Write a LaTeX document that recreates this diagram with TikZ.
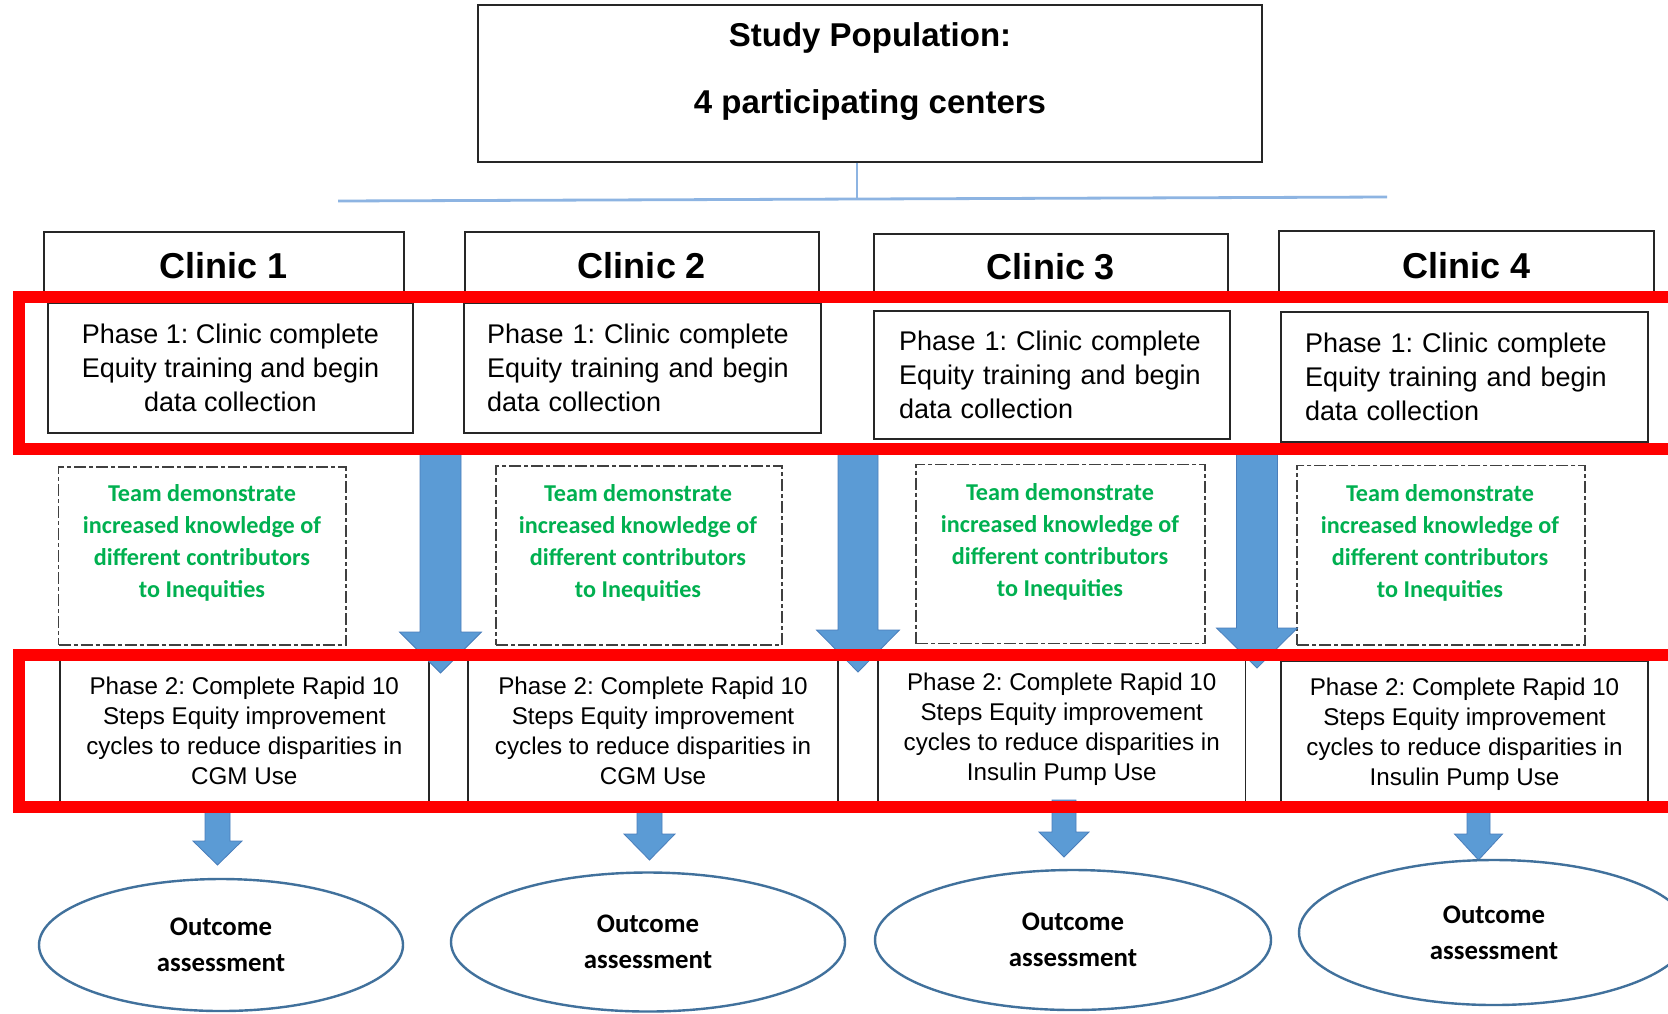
\documentclass[tikz,border=0pt]{standalone}
\usepackage{fontspec}
\setmainfont{Liberation Sans}
\newfontfamily\calib{Carlito}
\usetikzlibrary{shapes.geometric}
\frenchspacing
\hyphenpenalty=10000
\exhyphenpenalty=10000
\definecolor{arrowblue}{HTML}{5B9BD5}
\definecolor{arrowedge}{HTML}{4A7EBB}
\definecolor{ellblue}{HTML}{41719C}
\definecolor{linkblue}{HTML}{8DB4E2}
\definecolor{teamgreen}{HTML}{00B050}
\definecolor{boxgray}{HTML}{404040}
% x, top, shaft half width, head half width, head base y, tip y
\newcommand\blkarrow[6]{%
  \path[fill=arrowblue, draw=arrowedge, line width=0.4pt]
    (#1-#3,#2) -- (#1+#3,#2) -- (#1+#3,#5) -- (#1+#4,#5) -- (#1,#6)
    -- (#1-#4,#5) -- (#1-#3,#5) -- cycle;}
\begin{document}
\begin{tikzpicture}[x=0.5pt,y=-0.5pt,
  box/.style={draw=black!85, line width=0.9pt, inner sep=0pt},
  clinicbox/.style={box, font=\bfseries\fontsize{18}{22}\selectfont},
  phaseone/.style={box, font=\fontsize{13.5}{17}\selectfont},
  phasetwo/.style={box, align=center, font=\fontsize{12.1}{15}\selectfont},
  teambox/.style={draw=boxgray, line width=0.7pt, dash pattern=on 6pt off 1.5pt on 2pt off 1.5pt, inner sep=0pt},
  teamtext/.style={text=teamgreen, align=center, inner sep=0pt, font=\calib\bfseries\fontsize{12.1}{16}\selectfont},
  outcome/.style={ellipse, draw=ellblue, line width=1.2pt, inner sep=0pt, align=center, font=\calib\bfseries\fontsize{13.4}{18}\selectfont},
  redframe/.style={draw=red, line width=6pt},
  link/.style={draw=linkblue, line width=1.4pt}
]
\useasboundingbox (0,0) rectangle (1668,1013);
\fill[white] (0,0) rectangle (1668,1013);
\clip (0,0) rectangle (1668,1013);

% top box
\node[box, minimum width=392pt, minimum height=78.5pt] (top) at (870,83.5) {};
\node[align=center, inner sep=0pt, font=\bfseries\fontsize{16.5}{33.5}\selectfont] (toptxt) at (870,71.5) {Study Population:\\4 participating centers};

% connector lines
\coordinate (hl) at (338,201);
\coordinate (hr) at (1387,197);
\coordinate (hj) at (857,199);
\draw[link] (hl) -- (hr);
\draw[link] (top.south -| hj) -- (hj);

% clinic headers
\node[clinicbox, minimum width=180.2pt, minimum height=34pt] (c1) at (224,266) {Clinic 1};
\node[clinicbox, minimum width=177pt, minimum height=34pt] (c2) at (642,266) {Clinic 2};
\node[clinicbox, minimum width=177pt, minimum height=33pt] (c3) at (1051,267) {Clinic 3};
\node[clinicbox, minimum width=187.5pt, minimum height=34.5pt] (c4) at (1466.5,265.5) {Clinic 4};

% phase 1 boxes
\node[phaseone, minimum width=182.5pt, minimum height=65pt, align=center] (p1a) at (230.5,368)
  {Phase 1: Clinic complete\\Equity training and begin\\data collection};
\node[phaseone, minimum height=65pt, text width=155.5pt, inner xsep=11.5pt, align=left] (p1b) at (642.5,368)
  {Phase 1: Clinic complete\\Equity training and begin\\data collection};
\node[phaseone, minimum height=64pt, text width=153pt, inner xsep=12.5pt, align=left] (p1c) at (1052,375)
  {Phase 1: Clinic complete\\Equity training and begin\\data collection};
\node[phaseone, minimum height=65pt, text width=159.5pt, inner xsep=12pt, align=left] (p1d) at (1464.5,377)
  {Phase 1: Clinic complete\\Equity training and begin\\data collection};

% team boxes
\node[teambox, minimum width=143.75pt, minimum height=89pt] (t1) at (202.25,556) {};
\node[teambox, minimum width=143pt, minimum height=89.5pt] (t2) at (639,555.5) {};
\node[teambox, minimum width=144.5pt, minimum height=89.5pt] (t3) at (1060.5,554) {};
\node[teambox, minimum width=144pt, minimum height=89.7pt] (t4) at (1441,555.3) {};
\node[teamtext] (t1txt) at (202,543) {Team demonstrate\\increased knowledge of\\different contributors\\to Inequities};
\node[teamtext] (t2txt) at (638,543) {Team demonstrate\\increased knowledge of\\different contributors\\to Inequities};
\node[teamtext] (t3txt) at (1060,542) {Team demonstrate\\increased knowledge of\\different contributors\\to Inequities};
\node[teamtext] (t4txt) at (1440,543) {Team demonstrate\\increased knowledge of\\different contributors\\to Inequities};

% phase 2 boxes
\node[phasetwo, minimum width=184.7pt, minimum height=73pt] (p2a) at (244.3,731)
  {Phase 2: Complete Rapid 10\\Steps Equity improvement\\cycles to reduce disparities in\\CGM Use};
\node[phasetwo, minimum width=185pt, minimum height=73pt] (p2b) at (653,731)
  {Phase 2: Complete Rapid 10\\Steps Equity improvement\\cycles to reduce disparities in\\CGM Use};
\node[phasetwo, minimum width=183.75pt, minimum height=73pt] (p2c) at (1061.75,729)
  {Phase 2: Complete Rapid 10\\Steps Equity improvement\\cycles to reduce disparities in\\Insulin Pump Use};
\node[phasetwo, minimum width=183.5pt, minimum height=73pt] (p2d) at (1464.5,734)
  {Phase 2: Complete Rapid 10\\Steps Equity improvement\\cycles to reduce disparities in\\Insulin Pump Use};

% block arrows
\blkarrow{440.5}{447}{20.5}{41}{632}{673}
\blkarrow{858}{447}{20}{41.5}{630}{672}
\blkarrow{1257}{447}{20.5}{40.5}{628}{668}
\blkarrow{217.5}{805}{12.5}{24.5}{841}{865}
\blkarrow{649.5}{805}{12.5}{25.5}{834}{860}
\blkarrow{1064}{800}{12}{25}{832}{857}
\blkarrow{1478.5}{805}{11.5}{24}{834}{860}

% outcome ellipses
\node[outcome, minimum width=182pt, minimum height=66pt] (o1) at (221,945) {Outcome\\assessment};
\node[outcome, minimum width=197pt, minimum height=69.5pt] (o2) at (648,942) {Outcome\\assessment};
\node[outcome, minimum width=198pt, minimum height=70pt] (o3) at (1073,940) {Outcome\\assessment};
\node[outcome, minimum width=195pt, minimum height=72.5pt] (o4) at (1494,932.5) {Outcome\\assessment};

% red highlight frames
\draw[redframe] (19,297) rectangle (1720,449);
\draw[redframe] (19,655) rectangle (1720,807);
\end{tikzpicture}
\end{document}
